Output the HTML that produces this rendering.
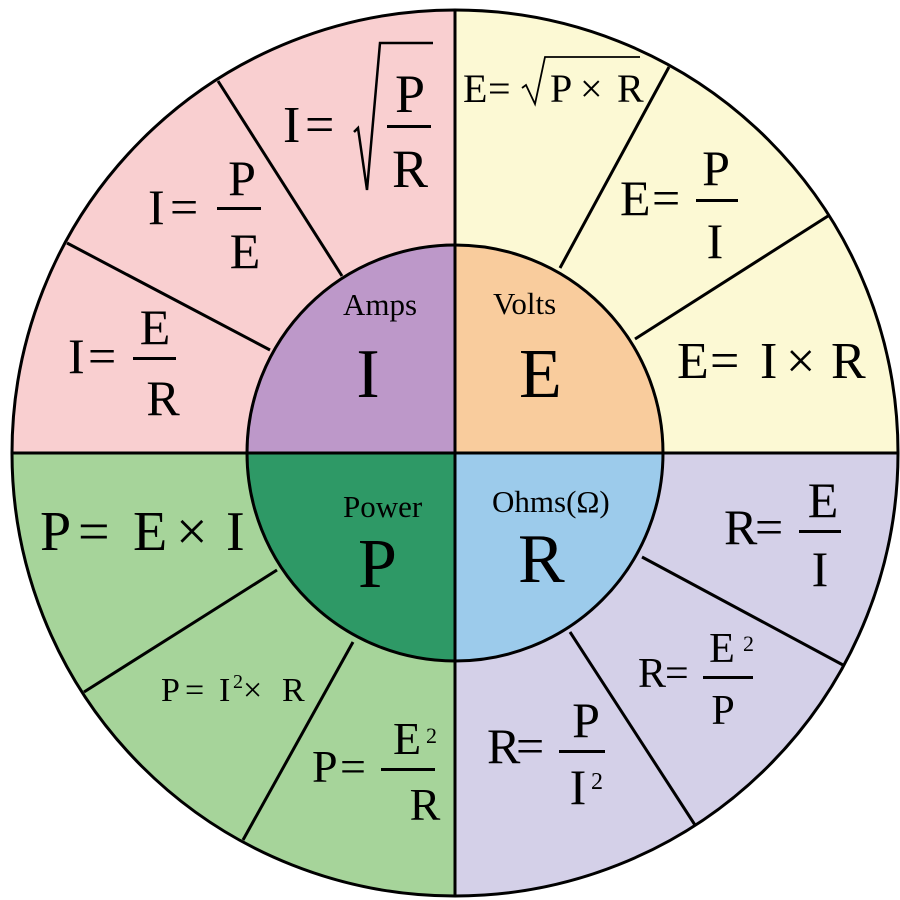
<!DOCTYPE html>
<html><head><style>
html,body{margin:0;padding:0;background:#fff}svg{display:block}
text{font-family:"Liberation Serif","Times New Roman","Noto Serif CJK SC",serif;fill:#000}
</style></head>
<body>
<svg width="900" height="900" viewBox="0 0 900 900" xmlns="http://www.w3.org/2000/svg">
<g stroke="none">
<path d="M455,453 L12,453 A443,443 0 0 1 455,10 Z" fill="#f9cfd0"/>
<path d="M455,453 L455,10 A443,443 0 0 1 898,453 Z" fill="#fcf9d4"/>
<path d="M455,453 L898,453 A443,443 0 0 1 455,896 Z" fill="#d4d0e8"/>
<path d="M455,453 L455,896 A443,443 0 0 1 12,453 Z" fill="#a6d49a"/>
<path d="M455,453 L247,453 A208,208 0 0 1 455,245 Z" fill="#bd98c9"/>
<path d="M455,453 L455,245 A208,208 0 0 1 663,453 Z" fill="#f9cc9d"/>
<path d="M455,453 L663,453 A208,208 0 0 1 455,661 Z" fill="#9ccbeb"/>
<path d="M455,453 L455,661 A208,208 0 0 1 247,453 Z" fill="#2e9966"/>
</g>
<g stroke="#000" stroke-width="3" fill="none">
<circle cx="455" cy="453" r="443"/>
<circle cx="455" cy="453" r="208"/>
<line x1="12" y1="453" x2="898" y2="453"/>
<line x1="455" y1="10" x2="455" y2="896"/>
<line x1="342" y1="276" x2="218" y2="81"/>
<line x1="270" y1="350" x2="67" y2="243"/>
<line x1="560" y1="268" x2="669" y2="67"/>
<line x1="635" y1="339" x2="828" y2="216"/>
<line x1="642" y1="557" x2="843" y2="665"/>
<line x1="570" y1="632" x2="695" y2="825"/>
<line x1="277" y1="570" x2="84" y2="692"/>
<line x1="353" y1="642" x2="243" y2="840"/>
</g>
<!-- center labels -->
<text x="343" y="315" font-size="31">Amps</text>
<text x="368" y="397" font-size="70" text-anchor="middle">I</text>
<text x="493" y="314" font-size="31">Volts</text>
<text x="519" y="397" font-size="70">E</text>
<text x="343" y="517" font-size="31">Power</text>
<text x="358" y="587" font-size="70">P</text>
<text x="492" y="512" font-size="31">Ohms(Ω)</text>
<text x="518" y="582" font-size="70">R</text>
<!-- pink -->
<text x="68" y="373" font-size="50">I</text>
<text x="88" y="373" font-size="50">=</text>
<text x="155" y="344" font-size="50" text-anchor="middle">E</text>
<rect x="133" y="357" width="43" height="3"/>
<text x="163" y="415" font-size="50" text-anchor="middle">R</text>
<text x="148" y="224" font-size="50">I</text>
<text x="170" y="224" font-size="50">=</text>
<text x="242" y="195" font-size="50" text-anchor="middle">P</text>
<rect x="217" y="207" width="44" height="3"/>
<text x="245" y="268" font-size="50" text-anchor="middle">E</text>
<text x="283" y="142" font-size="52">I</text>
<text x="305" y="142" font-size="52">=</text>
<polyline points="354,132 358,128 367,190 380,43 433,43" stroke="#000" stroke-width="2.5" fill="none"/>
<text x="410" y="112" font-size="54" text-anchor="middle">P</text>
<rect x="387" y="125" width="44" height="3"/>
<text x="410" y="187" font-size="54" text-anchor="middle">R</text>
<!-- yellow -->
<text x="463" y="102" font-size="40">E</text>
<text x="488" y="102" font-size="40">=</text>
<polyline points="522,88 526,85 535,104 545,57 640,57" stroke="#000" stroke-width="1.8" fill="none"/>
<text x="550" y="102" font-size="40">P</text>
<text x="580" y="102" font-size="40">×</text>
<text x="617" y="102" font-size="40">R</text>
<text x="620" y="215" font-size="50">E</text>
<text x="652" y="215" font-size="50">=</text>
<text x="716" y="185" font-size="50" text-anchor="middle">P</text>
<rect x="696" y="199" width="42" height="3"/>
<text x="715" y="258" font-size="50" text-anchor="middle">I</text>
<text x="677" y="378" font-size="52">E</text>
<text x="710" y="378" font-size="52">=</text>
<text x="760" y="378" font-size="52">I</text>
<text x="786" y="378" font-size="52">×</text>
<text x="831" y="378" font-size="52">R</text>
<!-- green -->
<text x="40" y="550" font-size="56">P</text>
<text x="78" y="550" font-size="56">=</text>
<text x="133" y="550" font-size="56">E</text>
<text x="176" y="550" font-size="56">×</text>
<text x="226" y="550" font-size="56">I</text>
<text x="161" y="701" font-size="34">P</text>
<text x="185" y="701" font-size="34">=</text>
<text x="219" y="701" font-size="34">I</text>
<text x="233" y="688" font-size="20">2</text>
<text x="243" y="701" font-size="34">×</text>
<text x="282" y="701" font-size="34">R</text>
<text x="312" y="782" font-size="46">P</text>
<text x="340" y="782" font-size="46">=</text>
<text x="407" y="754" font-size="46" text-anchor="middle">E</text>
<text x="426" y="743" font-size="22">2</text>
<rect x="381" y="768" width="54" height="3"/>
<text x="425" y="820" font-size="46" text-anchor="middle">R</text>
<!-- lavender -->
<text x="724" y="544" font-size="50">R</text>
<text x="755" y="544" font-size="50">=</text>
<text x="823" y="517" font-size="50" text-anchor="middle">E</text>
<rect x="799" y="530" width="42" height="3"/>
<text x="820" y="586" font-size="50" text-anchor="middle">I</text>
<text x="638" y="687" font-size="42">R</text>
<text x="665" y="687" font-size="42">=</text>
<text x="722" y="662" font-size="42" text-anchor="middle">E</text>
<text x="743" y="651" font-size="22">2</text>
<rect x="703" y="676" width="50" height="3"/>
<text x="723" y="724" font-size="42" text-anchor="middle">P</text>
<text x="487" y="763" font-size="50">R</text>
<text x="516" y="763" font-size="50">=</text>
<text x="586" y="737" font-size="50" text-anchor="middle">P</text>
<rect x="559" y="750" width="46" height="3"/>
<text x="578" y="804" font-size="50" text-anchor="middle">I</text>
<text x="591" y="789" font-size="24">2</text>
</svg>
</body></html>
